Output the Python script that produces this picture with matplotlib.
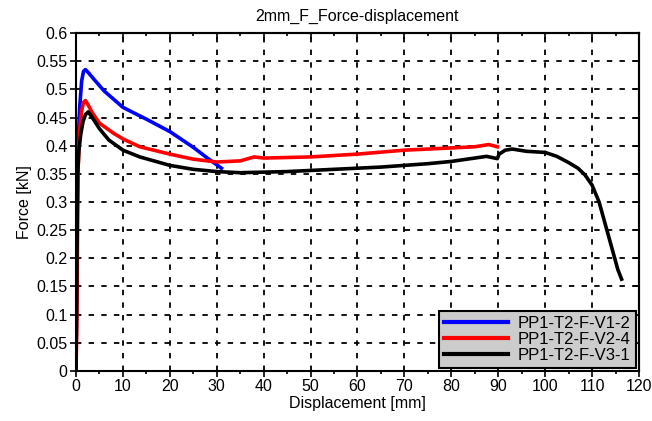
import numpy as np
import matplotlib
matplotlib.use('Agg')
import matplotlib.pyplot as plt
from matplotlib.ticker import MultipleLocator

plt.rcParams['font.family'] = ['Liberation Sans', 'DejaVu Sans']

# PP1-T2-F-V1-2
disp_v1 = [0, 0.2, 0.4, 0.8, 1.2, 1.6, 2.0, 2.6, 3.6, 6, 10, 15, 20, 25, 28, 31]
force_v1 = [0, 0.25, 0.40, 0.47, 0.515, 0.532, 0.535, 0.53, 0.52, 0.497, 0.468, 0.447, 0.425, 0.397, 0.378, 0.36]

# PP1-T2-F-V2-4
disp_v2 = [0, 0.2, 0.4, 0.8, 1.2, 1.6, 2.0, 2.6, 3.5, 5, 8, 10, 13.6, 20, 25, 30, 35, 38, 40, 50, 60, 70, 80, 85, 88, 89.8]
force_v2 = [0, 0.1, 0.35, 0.43, 0.462, 0.477, 0.48, 0.472, 0.458, 0.44, 0.422, 0.412, 0.398, 0.385, 0.376, 0.371, 0.373, 0.38, 0.378, 0.38, 0.385, 0.392, 0.396, 0.398, 0.402, 0.398]

# PP1-T2-F-V3-1
disp_v3 = [0, 0.2, 0.35, 0.6, 1.0, 1.5, 2.0, 2.6, 3.3, 5, 7, 10, 13.6, 20, 25, 30, 35, 40, 45, 50, 55, 60, 65, 70, 75, 80, 85, 87.5, 89.8,
           90.2, 91.5, 93, 96, 100, 102.5, 105, 107, 108.5, 110, 111.5, 112.5, 113.5, 114.5, 115.5, 116.3]
force_v3 = [0, 0.2, 0.35, 0.39, 0.42, 0.443, 0.455, 0.46, 0.452, 0.43, 0.41, 0.392, 0.38, 0.365, 0.358, 0.354, 0.352, 0.353, 0.354, 0.356, 0.358, 0.36, 0.362, 0.365, 0.368, 0.372, 0.378, 0.381, 0.377,
            0.385, 0.392, 0.394, 0.39, 0.388, 0.381, 0.37, 0.36, 0.348, 0.33, 0.3, 0.27, 0.24, 0.21, 0.18, 0.163]

labels = ['PP1-T2-F-V1-2', 'PP1-T2-F-V2-4', 'PP1-T2-F-V3-1']
colors = ['#0000ff', '#ff0000', '#000000']

fig = plt.figure(figsize=(6.52, 4.21), dpi=100)
ax = fig.add_axes([0.1166, 0.1188, 0.8634, 0.8028])

for d, f, lab, c in zip([disp_v1, disp_v2, disp_v3], [force_v1, force_v2, force_v3], labels, colors):
    ax.plot(d, f, color=c, lw=2.6, label=lab)

ax.set_xlim(0, 120)
ax.set_ylim(0, 0.6)
ax.xaxis.set_major_locator(MultipleLocator(10))
ax.xaxis.set_minor_locator(MultipleLocator(5))
ax.set_yticks(np.arange(0, 0.61, 0.05))
ax.set_yticklabels(['0', '0.05', '0.1', '0.15', '0.2', '0.25', '0.3', '0.35', '0.4', '0.45', '0.5', '0.55', '0.6'])
ax.tick_params(which='both', direction='out', labelsize=11.5, length=4, width=1.2, pad=2)
ax.tick_params(which='minor', length=2.5)
ax.grid(True, which='major', color='black', linestyle=(0, (3, 4)), lw=1.3)
for s in ax.spines.values():
    s.set_linewidth(1.5)

# mirrored ticks pointing inward on top and right
top = ax.secondary_xaxis('top')
top.xaxis.set_major_locator(MultipleLocator(10))
top.xaxis.set_minor_locator(MultipleLocator(5))
top.tick_params(which='both', direction='in', labeltop=False, length=4, width=1.2)
top.tick_params(which='minor', length=2.5)
right = ax.secondary_yaxis('right')
right.set_yticks(np.arange(0, 0.61, 0.05))
right.tick_params(direction='in', labelright=False, length=4, width=1.2)
for sec in (top, right):
    for s in sec.spines.values():
        s.set_linewidth(1.5)

ax.set_xlabel('Displacement [mm]', fontsize=11.5, labelpad=1)
ax.set_ylabel('Force [kN]', fontsize=11.5, labelpad=3)
ax.set_title('2mm_F_Force-displacement', fontsize=11.5, pad=9)

leg = ax.legend(loc='lower right', fontsize=12, fancybox=False, framealpha=1,
                facecolor='#cccccc', edgecolor='black', borderaxespad=0.2,
                handlelength=3.8, handletextpad=0.6, labelspacing=0.05, borderpad=0.3)
leg.get_frame().set_linewidth(1.5)
for line in leg.get_lines():
    line.set_linewidth(3)

fig.savefig('out.png', dpi=100)
